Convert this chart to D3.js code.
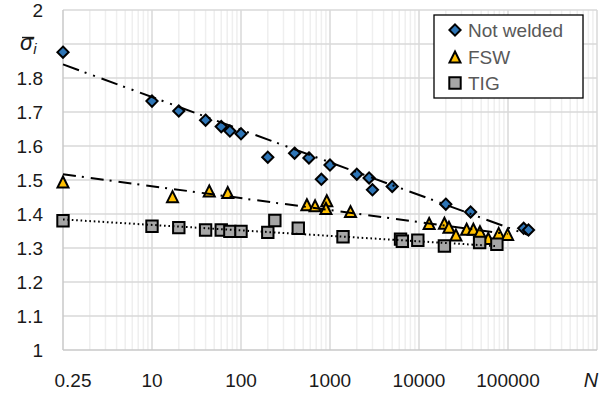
<!DOCTYPE html>
<html>
<head>
<meta charset="utf-8">
<script src="https://cdn.jsdelivr.net/npm/d3@7"></script>
<style>
  html, body { margin: 0; padding: 0; background: #fff; }
  svg { display: block; }
  text { font-family: "Liberation Sans", Arial, sans-serif; }
</style>
</head>
<body>
<script>
// Cycle counts (N) and normalised strength values for each series
const notWeldedN = [1, 10, 20, 40, 60, 75, 100, 200, 400, 580, 800, 1000, 2000, 2750, 3000, 5000, 20000, 38000, 150000, 170000];
const notWeldedV = [1.876, 1.732, 1.703, 1.676, 1.657, 1.644, 1.636, 1.567, 1.579, 1.565, 1.502, 1.544, 1.517, 1.506, 1.471, 1.481, 1.429, 1.406, 1.358, 1.353];

const fswN = [1, 17, 44, 71, 550, 680, 920, 900, 1700, 13000, 19300, 21700, 26000, 34300, 40800, 48400, 60000, 78600, 99000];
const fswV = [1.494, 1.451, 1.468, 1.463, 1.427, 1.424, 1.439, 1.416, 1.407, 1.372, 1.373, 1.361, 1.338, 1.355, 1.355, 1.348, 1.328, 1.343, 1.340];

const tigN = [1, 10, 20, 40, 60, 75, 100, 200, 240, 440, 1400, 6200, 6500, 9700, 19300, 48000, 75000];
const tigV = [1.380, 1.364, 1.360, 1.353, 1.353, 1.349, 1.349, 1.346, 1.381, 1.358, 1.333, 1.326, 1.320, 1.323, 1.306, 1.316, 1.311];

// Logarithmic trend lines: value = intercept + slope * log10(N)
const trendIntercept = [1.840, 1.517, 1.384];
const trendSlope = [-0.096, -0.0352, -0.0161];

const seriesNames = ["Not welded", "FSW", "TIG"];

// Axis ticks and labels
const xTicks = [1, 10, 100, 1000, 10000, 100000];
const xTickLabels = ["0.25", "10", "100", "1000", "10000", "100000"];
const yTicks = [1, 1.1, 1.2, 1.3, 1.4, 1.5, 1.6, 1.7, 1.8, 1.9, 2];
const yTickLabels = ["1", "1.1", "1.2", "1.3", "1.4", "1.5", "1.6", "1.7", "1.8", "", "2"];

const W = 607, H = 394;
const plot = { left: 63, right: 597, top: 10, bottom: 350 };

const svg = d3.select("body").append("svg").attr("width", W).attr("height", H);

const x = d3.scaleLog().domain([1, 1e6]).range([plot.left, plot.right]);
const y = d3.scaleLinear().domain([1, 2]).range([plot.bottom, plot.top]);

// Minor vertical grid lines (2..9 within each decade)
const minorTicks = [];
for (let d = 1; d < 1e6; d *= 10) for (let k = 2; k <= 9; k++) minorTicks.push(d * k);
svg.append("g").selectAll("line").data(minorTicks).join("line")
  .attr("x1", d => x(d)).attr("x2", d => x(d))
  .attr("y1", plot.top).attr("y2", plot.bottom)
  .attr("stroke", "#efefef").attr("stroke-width", 1.5);

// Major vertical grid lines
svg.append("g").selectAll("line").data([10, 100, 1000, 10000, 100000, 1e6]).join("line")
  .attr("x1", d => x(d)).attr("x2", d => x(d))
  .attr("y1", plot.top).attr("y2", plot.bottom)
  .attr("stroke", "#d9d9d9").attr("stroke-width", 1.5);

// Horizontal grid lines
svg.append("g").selectAll("line").data(yTicks.slice(1)).join("line")
  .attr("x1", plot.left).attr("x2", plot.right)
  .attr("y1", d => y(d)).attr("y2", d => y(d))
  .attr("stroke", "#d9d9d9").attr("stroke-width", 1.5);

// Axis lines
svg.append("line").attr("x1", plot.left).attr("x2", plot.left)
  .attr("y1", plot.top).attr("y2", plot.bottom)
  .attr("stroke", "#c8c8c8").attr("stroke-width", 1.5);
svg.append("line").attr("x1", plot.left).attr("x2", plot.right)
  .attr("y1", plot.bottom).attr("y2", plot.bottom)
  .attr("stroke", "#c8c8c8").attr("stroke-width", 1.5);

// Tick labels
const tickFont = 19;
svg.append("g").selectAll("text").data(yTicks).join("text")
  .attr("x", 43).attr("y", d => y(d)).attr("dy", "0.35em")
  .attr("text-anchor", "end").attr("font-size", tickFont).attr("fill", "#1a1a1a")
  .text((d, i) => yTickLabels[i]);

svg.append("g").selectAll("text").data(xTicks).join("text")
  .attr("x", (d, i) => x(d) + (i === 0 ? 10 : 0)).attr("y", 387)
  .attr("text-anchor", "middle").attr("font-size", tickFont).attr("fill", "#1a1a1a")
  .text((d, i) => xTickLabels[i]);

// Axis titles: sigma with an overbar and subscript i, placed at the 1.9 row
const serif = "'DejaVu Serif', 'Liberation Serif', serif";
const yTitle = svg.append("text").attr("x", 20).attr("y", 50)
  .attr("font-family", serif)
  .attr("font-style", "italic").attr("font-size", 22).attr("fill", "#1a1a1a");
const sigma = yTitle.append("tspan").text("σ");
yTitle.append("tspan").attr("font-size", 15).attr("dy", 4).text("i");
const sigmaW = sigma.node().getComputedTextLength();
svg.append("line")
  .attr("x1", 22).attr("x2", 20 + sigmaW + 1)
  .attr("y1", 37.5).attr("y2", 37.5)
  .attr("stroke", "#1a1a1a").attr("stroke-width", 1.4);

svg.append("text").attr("x", x(1e6) - 6).attr("y", 387)
  .attr("text-anchor", "middle")
  .attr("font-family", "'Liberation Serif', 'DejaVu Serif', serif")
  .attr("font-style", "italic").attr("font-size", 20).attr("fill", "#1a1a1a")
  .text("N");

// Marker shapes
const fills = ["#2e75b6", "#ffc000", "#a6a6a6"];
function diamondPath(s) {
  return `M0,${-s}L${s},0L0,${s}L${-s},0Z`;
}
function trianglePath(s) {
  return `M0,${-s}L${s},${s}L${-s},${s}Z`;
}
function squarePath(s) {
  return `M${-s},${-s}H${s}V${s}H${-s}Z`;
}
const shapeFns = [() => diamondPath(5.6), () => trianglePath(5.5), () => squarePath(5.7)];

const seriesN = [notWeldedN, fswN, tigN];
const seriesV = [notWeldedV, fswV, tigV];

seriesN.forEach((ns, si) => {
  const pts = ns.map((n, i) => ({ n, v: seriesV[si][i] }));
  svg.append("g").selectAll("path").data(pts).join("path")
    .attr("transform", d => `translate(${x(d.n)},${y(d.v)})`)
    .attr("d", shapeFns[si])
    .attr("fill", fills[si])
    .attr("stroke", "#000").attr("stroke-width", 2)
    .attr("stroke-linejoin", "miter");
});

// Trend lines, drawn over the markers
const dashes = ["17,6,2,7,2,7", "13,6,2,7", "1.6,2.8"];
seriesN.forEach((ns, si) => {
  const n0 = d3.min(ns), n1 = d3.max(ns);
  const f = n => trendIntercept[si] + trendSlope[si] * Math.log10(n);
  svg.append("line")
    .attr("x1", x(n0)).attr("y1", y(f(n0)))
    .attr("x2", x(n1)).attr("y2", y(f(n1)))
    .attr("stroke", "#000").attr("stroke-width", 2)
    .attr("stroke-dasharray", dashes[si]);
});

// Legend
const lg = svg.append("g");
lg.append("rect").attr("x", 434).attr("y", 15).attr("width", 149).attr("height", 83)
  .attr("fill", "#fff").attr("stroke", "#000").attr("stroke-width", 1.3);
const legendY = [30, 57, 83];
seriesNames.forEach((name, i) => {
  lg.append("path").attr("transform", `translate(455,${legendY[i]})`)
    .attr("d", shapeFns[i]).attr("fill", fills[i])
    .attr("stroke", "#000").attr("stroke-width", 2);
  lg.append("text").attr("x", 468).attr("y", legendY[i]).attr("dy", "0.36em")
    .attr("font-size", tickFont).attr("fill", "#595959").text(name);
});
</script>
</body>
</html>
